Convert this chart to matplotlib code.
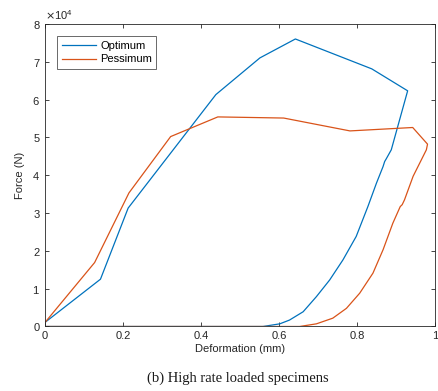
import matplotlib
matplotlib.use('Agg')
import matplotlib.pyplot as plt
import matplotlib.ticker as mticker
import numpy as np

# Optimum specimen: loading then unloading (deformation in mm, force in N)
opt_x = [0.0, 0.142, 0.213, 0.438, 0.551, 0.642, 0.838, 0.930, 0.888, 0.875, 0.871, 0.867,
         0.850, 0.828, 0.798, 0.764, 0.730, 0.696, 0.662, 0.627, 0.602, 0.559, 0.45, 0.0]
opt_f = [0.11e4, 1.25e4, 3.13e4, 6.13e4, 7.10e4, 7.60e4, 6.81e4, 6.23e4, 4.67e4, 4.43e4, 4.36e4, 4.23e4,
         3.79e4, 3.17e4, 2.38e4, 1.76e4, 1.23e4, 0.79e4, 0.39e4, 0.17e4, 0.07e4, 0.0, 0.0, 0.0]

# Pessimum specimen
pes_x = [0.0, 0.127, 0.215, 0.322, 0.443, 0.612, 0.782, 0.943, 0.981, 0.978, 0.944, 0.922,
         0.916, 0.911, 0.892, 0.867, 0.841, 0.807, 0.773, 0.738, 0.696, 0.653, 0.55, 0.0]
pes_f = [0.11e4, 1.69e4, 3.53e4, 5.02e4, 5.54e4, 5.51e4, 5.17e4, 5.26e4, 4.82e4, 4.67e4, 3.97e4, 3.35e4,
         3.22e4, 3.17e4, 2.73e4, 2.03e4, 1.41e4, 0.88e4, 0.48e4, 0.22e4, 0.07e4, 0.0, 0.0, 0.0]

plt.rcParams['font.family'] = ['Liberation Sans', 'DejaVu Sans']

fig = plt.figure(figsize=(4.38, 3.91), dpi=100)
ax = fig.add_axes([0.103, 0.165, 0.890, 0.774])

ax.plot(opt_x, opt_f, color='#0072BD', lw=0.9, label='Optimum')
ax.plot(pes_x, pes_f, color='#D95319', lw=0.9, label='Pessimum')

ax.set_xlim(0, 1)
ax.set_ylim(0, 8e4)
ax.set_xticks([0, 0.2, 0.4, 0.6, 0.8, 1])
ax.set_xticklabels(['0', '0.2', '0.4', '0.6', '0.8', '1'])
ax.set_yticks(np.arange(0, 8.1e4, 1e4))
fmt = mticker.ScalarFormatter(useMathText=True)
fmt.set_powerlimits((0, 0))
ax.yaxis.set_major_formatter(fmt)
ax.yaxis.get_offset_text().set_fontsize(8)
ax.yaxis.get_offset_text().set_color('0.15')

ax.tick_params(direction='in', top=True, right=True, labelsize=8, colors='0.15',
               length=3, width=0.6)
for s in ax.spines.values():
    s.set_color('0.15')
    s.set_linewidth(0.6)

ax.set_xlabel('Deformation (mm)', fontsize=8, color='0.15', labelpad=2)
ax.set_ylabel('Force (N)', fontsize=8, color='0.15', labelpad=5)

leg = ax.legend(loc='upper left', fontsize=8, fancybox=False, edgecolor='0.15',
                handlelength=3.1, borderaxespad=1.1, handletextpad=0.35,
                borderpad=0.4, labelspacing=0.35)
leg.get_frame().set_linewidth(0.6)

fig.text(0.543, 0.033, '(b) High rate loaded specimens', ha='center', va='center',
         fontsize=10.5, family='Liberation Serif', color='0.1')

fig.savefig('out.png', dpi=100)
